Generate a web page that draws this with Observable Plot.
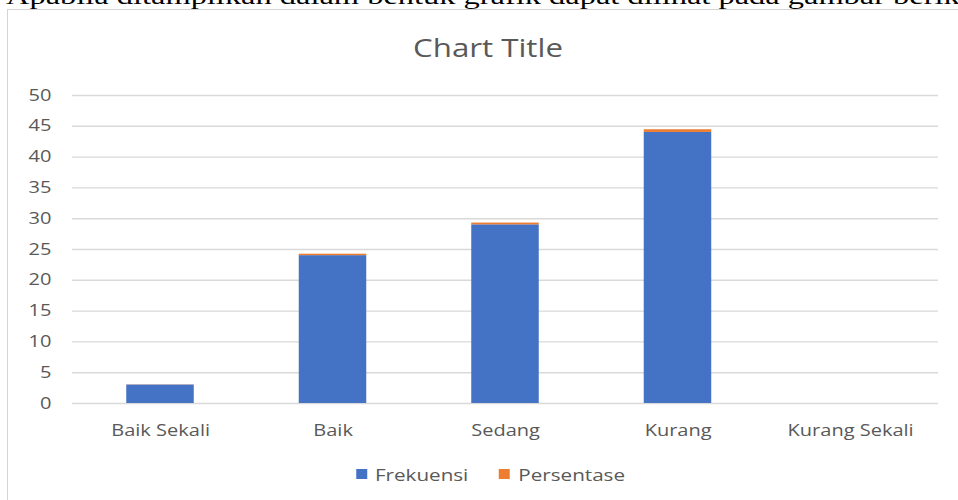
<!DOCTYPE html>
<html>
<head>
<meta charset="utf-8">
<script src="https://cdn.jsdelivr.net/npm/d3@7"></script>
<script src="https://cdn.jsdelivr.net/npm/@observablehq/plot@0.6"></script>
<style>
  html, body { margin: 0; padding: 0; background: #fff; width: 958px; height: 500px; overflow: hidden; }
  #lead { position: absolute; left: 0; top: 0; }
  #frame { position: absolute; left: 7px; top: 9px; width: 1000px; height: 600px;
           border: 1.5px solid #d4d4d4; box-sizing: border-box; }
  /* the chart is laid out at 80% width and widened by 1.25 */
  #figure { position: absolute; left: 0; top: 0; width: 766.4px; height: 500px;
            transform: scaleX(1.25); transform-origin: 0 0;
            font-family: "Open Sans", sans-serif; color: #595959; }
  #title { position: absolute; left: 0; top: 35px; width: 780.8px; text-align: center;
           font-size: 25px; line-height: 25px; color: #595959; }
  #chart { position: absolute; left: 0; top: 60px; }
  #legend { position: absolute; left: 0; top: 457.5px; width: 784.8px; }
  .lg-swatch { margin-right: 24.8px !important; }
  .lg-swatch:last-child { margin-right: 0 !important; }
  .lg-swatch > svg { margin-right: 6.4px !important; }
</style>
</head>
<body>
<svg id="lead" width="958" height="12">
  <text x="6" y="3.5" font-family="Liberation Serif" font-size="23" fill="#000"
        textLength="979" lengthAdjust="spacingAndGlyphs">Apabila ditampilkan dalam bentuk grafik dapat dilihat pada gambar berikut</text>
</svg>
<div id="frame"></div>
<div id="figure">
  <div id="title">Chart Title</div>
  <div id="chart"></div>
  <div id="legend"></div>
</div>
<script>
// Categories and the two stacked series
const categories = ["Baik Sekali", "Baik", "Sedang", "Kurang", "Kurang Sekali"];
const seriesNames = ["Frekuensi", "Persentase"];
const frekuensi = [3, 24, 29, 44, 0];
const persentase = [0.03, 0.24, 0.29, 0.44, 0];
const yTicks = [0, 5, 10, 15, 20, 25, 30, 35, 40, 45, 50];
const seriesColors = ["#4472C4", "#ED7D31"];

const rows = [];
categories.forEach((c, i) => rows.push({category: c, series: seriesNames[0], value: frekuensi[i]}));
categories.forEach((c, i) => rows.push({category: c, series: seriesNames[1], value: persentase[i]}));

const chart = Plot.plot({
  width: 766.4,
  height: 390,
  marginLeft: 57.6,
  marginRight: 16,
  marginTop: 35,
  marginBottom: 47,
  style: {fontFamily: "Open Sans, sans-serif", fontSize: "16px", color: "#595959", background: "transparent"},
  x: {domain: categories, paddingInner: 0.607, paddingOuter: 0.3035, label: null},
  y: {domain: [0, 50], label: null},
  color: {domain: seriesNames, range: seriesColors},
  marks: [
    Plot.ruleY(yTicks, {stroke: "#d9d9d9", strokeWidth: 1.4}),
    Plot.barY(rows, {x: "category", y: "value", fill: "series"}),
    Plot.axisY({ticks: yTicks, tickSize: 0, tickPadding: 17, label: null}),
    Plot.axisX({tickSize: 0, tickPadding: 21, label: null})
  ]
});
document.getElementById("chart").append(chart);

const legend = Plot.legend({
  color: {domain: seriesNames, range: seriesColors},
  swatchWidth: 8.8,
  swatchHeight: 10,
  className: "lg",
  style: {justifyContent: "center", fontFamily: "Open Sans, sans-serif", fontSize: "16.5px", color: "#595959"}
});
document.getElementById("legend").append(legend);
</script>
</body>
</html>
